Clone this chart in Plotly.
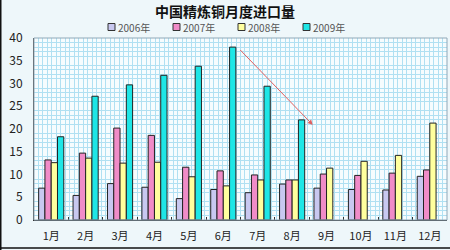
import plotly.graph_objects as go

months = ["1月", "2月", "3月", "4月", "5月", "6月", "7月", "8月", "9月", "10月", "11月", "12月"]
y2006 = [7.0, 5.4, 8.0, 7.2, 4.7, 6.7, 6.0, 7.9, 7.0, 6.7, 6.6, 9.6]
y2007 = [13.2, 14.7, 20.2, 18.6, 11.6, 10.8, 9.9, 8.8, 10.1, 9.8, 10.3, 11.0]
y2008 = [12.6, 13.6, 12.5, 12.7, 9.5, 7.5, 8.8, 8.8, 11.4, 12.9, 14.2, 21.3]
y2009 = [18.3, 27.2, 29.7, 31.8, 33.8, 38.0, 29.4, 22.0, None, None, None, None]
series = [("2006年", y2006, "#c8c8f0"), ("2007年", y2007, "#f08cc8"),
          ("2008年", y2008, "#ffff9e"), ("2009年", y2009, "#1ee6e6")]

W, H = 450, 250
L, R, T, B = 34, 3, 38, 30
PW, PH = W - L - R, H - T - B

def px(x):
    return (x - L) / PW

def py(y):
    return (H - B - y) / PH

fig = go.Figure()
for name, vals, col in series:
    fig.add_trace(go.Bar(x=months, y=vals, name=name, showlegend=False,
                         marker=dict(color=col, line=dict(color="#222", width=1))))

# helper trace for the fine vertical grid
fig.add_trace(go.Scatter(x=[None], y=[None], xaxis="x2", showlegend=False, hoverinfo="skip"))

fig.add_annotation(x=7.6, y=20.9, ax=5.45, ay=37.7, xref="x", yref="y", axref="x", ayref="y",
                   showarrow=True, arrowhead=2, arrowsize=1, arrowwidth=1, arrowcolor="#e06060", text="")

# legend drawn compactly (symbol right next to text, as in the reference)
leg_x = [108, 173, 238, 303]
for (name, _, col), lx in zip(series, leg_x):
    fig.add_shape(type="rect", xref="paper", yref="paper", x0=px(lx), x1=px(lx + 7),
                  y0=py(30.5), y1=py(23.5), fillcolor=col, line=dict(color="#333", width=1))
    fig.add_annotation(x=px(lx + 8), y=py(27), xref="paper", yref="paper", text=name,
                       showarrow=False, xanchor="left", yanchor="middle",
                       font=dict(size=10, color="#555"))

fig.update_layout(
    width=W, height=H,
    margin=dict(l=L, r=R, t=T, b=B),
    paper_bgcolor="#eef7fa", plot_bgcolor="#f6fcfe",
    barmode="group", bargap=0.27, bargroupgap=0,
    font=dict(family="Noto Sans CJK SC, sans-serif", size=11, color="#222"),
    title=dict(text="<b>中国精炼铜月度进口量</b>", x=0.5, xanchor="center", y=1 - 12 / H,
               yanchor="middle", font=dict(size=14, color="#111")),
    xaxis=dict(type="category", showgrid=False, showline=True, linecolor="#333", linewidth=1,
               ticks="inside", ticklen=3, tickcolor="#333", tickson="boundaries",
               ticklabelstandoff=6,
               tickfont=dict(size=11, color="#222"), mirror=False),
    xaxis2=dict(overlaying="x", range=[0, 92], dtick=1, showgrid=True, gridcolor="#b0e0f2",
                gridwidth=1, showticklabels=False, ticks="", zeroline=False, showline=False),
    yaxis=dict(range=[0, 40], dtick=5, showgrid=False, showline=True, linecolor="#444",
               tickfont=dict(size=12, color="#222"), zeroline=False, ticks="",
               ticklabelstandoff=8,
               minor=dict(dtick=1, showgrid=True, gridcolor="#b0e0f2", gridwidth=1)),
)
fig.add_shape(type="rect", xref="paper", yref="paper", x0=0, x1=1, y0=0, y1=1,
              line=dict(color="#90a8b8", width=1), layer="above")
fig.add_shape(type="line", xref="paper", yref="paper", x0=px(0.5), x1=px(0.5), y0=py(H + 2), y1=py(-2),
              line=dict(color="#111", width=2), layer="above")
fig.add_shape(type="line", xref="paper", yref="paper", x0=px(0), x1=px(W), y0=py(248), y1=py(248),
              line=dict(color="#111", width=1.5), layer="above")
fig.write_html("out.html")
